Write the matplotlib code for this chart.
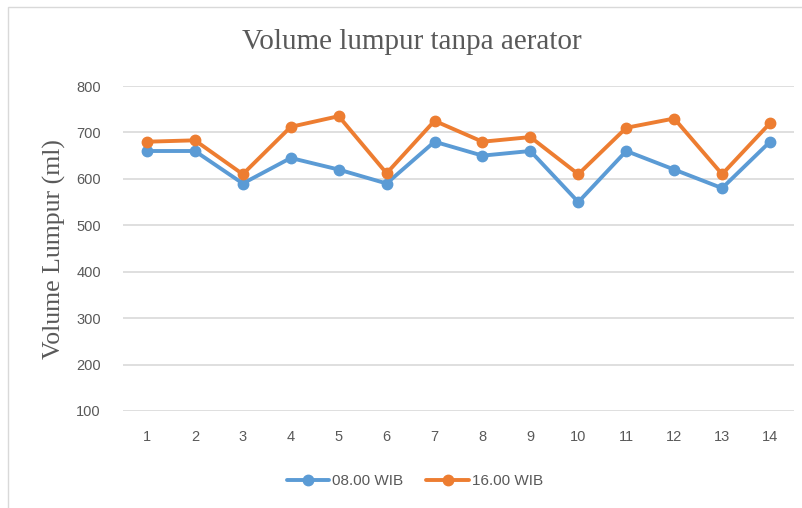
import matplotlib
matplotlib.use("Agg")
import matplotlib.pyplot as plt
from matplotlib.patches import Rectangle

# data
days = [1, 2, 3, 4, 5, 6, 7, 8, 9, 10, 11, 12, 13, 14]
pagi = [660, 660, 590, 645, 620, 590, 680, 650, 660, 550, 660, 620, 580, 680]
sore = [680, 683, 610, 712, 735, 612, 725, 680, 690, 610, 710, 730, 610, 720]
y_ticks = [100, 200, 300, 400, 500, 600, 700, 800]

BLUE = "#5B9BD5"
ORANGE = "#ED7D31"
TEXT_GREY = "#595959"
GRID_GREY = "#D9D9D9"

fig = plt.figure(figsize=(8.03, 5.08), dpi=100)
# plot area in pixel terms: x 123..794, y 86..411 (of 508)
ax = fig.add_axes([123 / 803, 1 - 411 / 508, (794 - 123) / 803, (411 - 86) / 508])

ax.plot(days, pagi, color=BLUE, lw=2.8, marker="o", ms=7.5, label="08.00 WIB",
        solid_capstyle="round", zorder=3)
ax.plot(days, sore, color=ORANGE, lw=2.8, marker="o", ms=7.5, label="16.00 WIB",
        solid_capstyle="round", zorder=3)

ax.set_xlim(0.5, 14.5)
ax.set_ylim(100, 800)
ax.set_xticks(days)
ax.set_yticks(y_ticks)
ax.yaxis.grid(True, color=GRID_GREY, lw=1.2)
ax.set_axisbelow(True)
for s in ax.spines.values():
    s.set_visible(False)
ax.tick_params(length=0, labelsize=10.5, colors=TEXT_GREY, labelfontfamily="Liberation Sans")
ax.tick_params(axis="x", pad=14)
ax.tick_params(axis="y", pad=16)

fig.text(54 / 803, 1 - 249 / 508, "Volume Lumpur (ml)", rotation=90, ha="center",
         va="center", fontsize=18.5, family="Liberation Serif", color=TEXT_GREY)
fig.text(412 / 803, 1 - 42 / 508, "Volume lumpur tanpa aerator", ha="center", va="center",
         fontsize=21, family="Liberation Serif", color=TEXT_GREY)

leg = fig.legend(loc="center", bbox_to_anchor=(415 / 803, 1 - 481 / 508), ncol=2,
                 frameon=False, handlelength=2.8, columnspacing=1.5,
                 handletextpad=0.2, prop={"family": "Liberation Sans", "size": 11})
for t in leg.get_texts():
    t.set_color(TEXT_GREY)

# light frame of the chart area
fig.patches.append(Rectangle((8 / 803, -0.05), 1.0, 1 - 7 / 508 + 0.05,
                             transform=fig.transFigure, fill=False,
                             edgecolor="#D9D9D9", lw=1.0))

fig.savefig("out.png", dpi=100)
